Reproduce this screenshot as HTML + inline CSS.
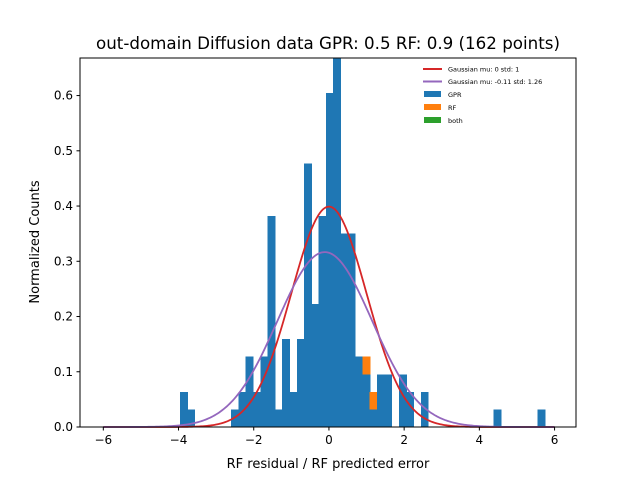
<!DOCTYPE html>
<html><head><meta charset="utf-8"><style>
body{margin:0;background:#fff}
svg{display:block;font-family:"DejaVu Sans","Liberation Sans",sans-serif}
</style></head><body>
<svg id="chart" width="640" height="480" viewBox="0 0 640 480">
<rect width="640" height="480" fill="#fff"/>
<text x="328" y="49" font-size="16.7" text-anchor="middle">out-domain Diffusion data GPR: 0.5 RF: 0.9 (162 points)</text>
<g id="plot" shape-rendering="crispEdges"></g>
<g id="curves"></g>
<rect x="80" y="58" width="496" height="369" fill="none" stroke="#000" stroke-width="1"/>
<text x="328" y="468" font-size="13" text-anchor="middle">RF residual / RF predicted error</text>
<text transform="translate(39,242) rotate(-90)" font-size="13" text-anchor="middle">Normalized Counts</text>
<g font-size="6.5">
<line x1="423" y1="69" x2="442" y2="69" stroke="#d62728" stroke-width="2"/>
<text x="448" y="71.5">Gaussian mu: 0 std: 1</text>
<line x1="423" y1="81.5" x2="442" y2="81.5" stroke="#9467bd" stroke-width="2"/>
<text x="448" y="84">Gaussian mu: -0.11 std: 1.26</text>
<rect x="424" y="91" width="17" height="6" fill="#1f77b4"/>
<text x="448" y="97">GPR</text>
<rect x="424" y="104" width="17" height="6" fill="#ff7f0e"/>
<text x="448" y="110">RF</text>
<rect x="424" y="117" width="17" height="6" fill="#2ca02c"/>
<text x="448" y="123">both</text>
</g>
</svg>
<script>
const binStart = -3.96;
const binWidth = 0.194;
const gprCounts = [2,1,0,0,0,0,0,1,2,4,2,4,12,1,5,2,5,15,7,12,19,21,11,11,4,3,1,3,3,0,3,2,0,2,0,0,0,0,0,0,0,0,0,1,0,0,0,0,0,1];
const rfCounts  = [0,0,0,0,0,0,0,0,0,0,0,0,0,0,0,0,0,0,0,0,0,0,0,0,0,1,1,0,0,0,0,0,0,0,0,0,0,0,0,0,0,0,0,0,0,0,0,0,0,0];
const totalPoints = 162;
const xTicks = [-6,-4,-2,0,2,4,6];
const yTicks = [0.0,0.1,0.2,0.3,0.4,0.5,0.6];
const gaussRef = {mu:0, sd:1};
const gaussFit = {mu:-0.11, sd:1.26};

const X0=80,X1=576,Y0=427,Y1=58;
const xmin=-6.62,xmax=6.57,ymin=0,ymax=0.668;
const sx=v=>X0+(v-xmin)/(xmax-xmin)*(X1-X0);
const sy=v=>Y0-(v-ymin)/(ymax-ymin)*(Y0-Y1);
const NS="http://www.w3.org/2000/svg";
const g=document.getElementById('plot');
const gc=document.getElementById('curves');
function mk(t,a,p){const e=document.createElementNS(NS,t);for(const k in a)e.setAttribute(k,a[k]);(p||g).appendChild(e);return e;}
const norm=totalPoints*binWidth;
gprCounts.forEach((c,i)=>{
  const x0=sx(binStart+i*binWidth),x1=sx(binStart+(i+1)*binWidth)+0.6;
  if(c>0){const r=mk('rect',{x:x0,y:sy(c/norm),width:x1-x0,height:sy(0)-sy(c/norm),fill:'#1f77b4'});
  
  }
  const o=rfCounts[i];
  if(o>0){const top=(c+o)/norm;const r=mk('rect',{x:x0,y:sy(top),width:x1-x0,height:sy(c/norm)-sy(top),fill:'#ff7f0e'});
  
  }
});
function curve(p,color,name){
  let d='';for(let k=0;k<=300;k++){const x=-6+12*k/300;const y=Math.exp(-0.5*((x-p.mu)/p.sd)**2)/(p.sd*Math.sqrt(2*Math.PI));d+=(k?'L':'M')+sx(x).toFixed(2)+','+sy(y).toFixed(2);}
  const e=mk('path',{d:d,fill:'none',stroke:color,'stroke-width':1.8},gc);
  
  
}
curve(gaussRef,'#d62728','gaussian-reference-curve');
curve(gaussFit,'#9467bd','gaussian-fit-curve');
xTicks.forEach(t=>{
  const l=mk('line',{x1:sx(t),x2:sx(t),y1:Y0,y2:Y0+3.5,stroke:'#000'},gc);
  
  
  const tx=mk('text',{x:sx(t),y:Y0+17,'font-size':'12','text-anchor':'middle'},gc);tx.textContent=(t<0?'\u2212':'')+Math.abs(t);
  
  
});
yTicks.forEach(t=>{
  const l=mk('line',{x1:X0-3.5,x2:X0,y1:sy(t),y2:sy(t),stroke:'#000'},gc);
  
  
  const tx=mk('text',{x:X0-7,y:sy(t)+4,'font-size':'12','text-anchor':'end'},gc);tx.textContent=t.toFixed(1);
  
  
});
</script>
</body></html>
